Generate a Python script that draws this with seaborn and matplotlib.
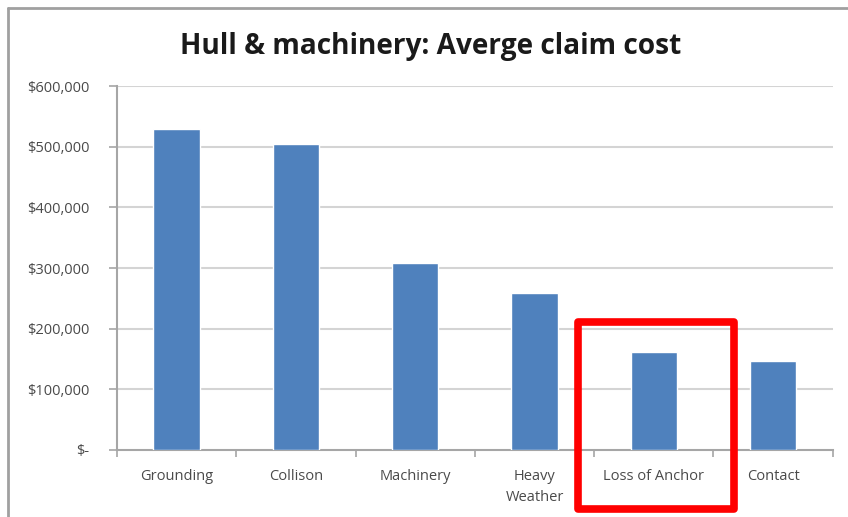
import matplotlib
matplotlib.use("Agg")
import matplotlib.pyplot as plt
import matplotlib.transforms as mtransforms
from matplotlib.patches import Rectangle
import seaborn as sns
import pandas as pd

categories = ["Grounding", "Collison", "Machinery", "Heavy\nWeather", "Loss of Anchor", "Contact"]
avg_cost = [529000, 504000, 308000, 259000, 161000, 146000]
y_ticks = [0, 100000, 200000, 300000, 400000, 500000, 600000]
y_tick_labels = ["$-", "$100,000", "$200,000", "$300,000", "$400,000", "$500,000", "$600,000"]
highlight = "Loss of Anchor"

sns.set_theme(style="white")
plt.rcParams["font.family"] = ["Open Sans", "DejaVu Sans"]

df = pd.DataFrame({"category": categories, "cost": avg_cost})

fig = plt.figure(figsize=(8.48, 5.17), dpi=100)
ax = fig.add_axes([0.138, 0.1296, 0.844, 0.704])

sns.barplot(data=df, x="category", y="cost", color="#4F81BD", saturation=1,
            width=0.39, ax=ax, zorder=3)

ax.set_ylim(0, 600000)
ax.set_xlim(-0.5, len(categories) - 0.5)
ax.set_yticks(y_ticks)
ax.set_yticklabels(y_tick_labels)
ax.set_xlabel("")
ax.set_ylabel("")

grid_c = "#D4D4D4"
axis_c = "#A6A6A6"
label_c = "#4A4A4A"
for v in y_ticks[1:]:
    ax.axhline(v, color=grid_c, lw=1.5, zorder=1)

for side in ["top", "right"]:
    ax.spines[side].set_visible(False)
for side in ["left", "bottom"]:
    ax.spines[side].set_color(axis_c)
    ax.spines[side].set_linewidth(1.5)

# category boundary ticks on x, outward ticks on y
ax.set_xticks(range(len(categories)))
ax.set_xticks([i - 0.5 for i in range(len(categories) + 1)], minor=True)
ax.tick_params(axis="x", which="major", length=0, pad=14, labelsize=10.5, labelcolor=label_c)
ax.tick_params(axis="x", which="minor", length=5, width=1.2, color=axis_c, direction="out", bottom=True)
ax.tick_params(axis="y", length=6, width=1.2, color=axis_c, direction="out", left=True,
               labelsize=10.5, labelcolor=label_c, pad=14)
for lab in ax.get_xticklabels():
    lab.set_linespacing(1.55)

ax.set_title("Hull & machinery: Averge claim cost", fontsize=20.2, fontweight="bold",
             color="#1A1A1A", x=0.438, pad=23)

# highlight frame around one category, extending below the axis
idx = categories.index(highlight)
trans = mtransforms.blended_transform_factory(ax.transData, ax.transAxes)
ax.add_patch(Rectangle((idx - 0.637, -0.162), 1.307, 0.514, transform=trans,
                       fill=False, edgecolor="#FF0000", lw=5.5, joinstyle="round",
                       clip_on=False, zorder=5))

# outer chart border
fig.add_artist(plt.Line2D([0.0095, 0.0095], [0, 0.984], transform=fig.transFigure,
                          color="#A0A0A0", lw=2))
fig.add_artist(plt.Line2D([0.0095, 1.0], [0.984, 0.984], transform=fig.transFigure,
                          color="#A0A0A0", lw=2))

fig.savefig("out.png", dpi=100, facecolor="white")
